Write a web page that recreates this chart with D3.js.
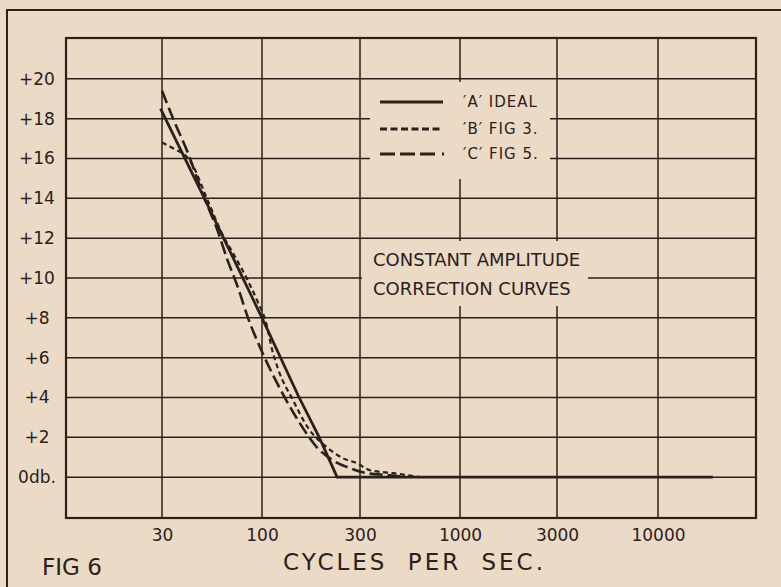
<!DOCTYPE html>
<html lang="en">
    <head>
        <meta charset="utf-8">
        <title>Fig 6 - Constant Amplitude Correction Curves</title>
        <script type="text/javascript" src="https://d3js.org/d3.v7.min.js"></script>
        <style type="text/css">
          body { margin: 0; background: #ebdac6; }
          svg { display: block; }
          text { font-family: "DejaVu Sans", sans-serif; fill: #2a211b; }
        </style>
    </head>
    <body>
        <svg width="781" height="587"></svg>
        <script type="text/javascript">

            const svg = d3.select("svg");
            const w = 781;
            const h = 587;
            const ink = "#2a211b";
            const paper = "#ebdac6";

            // grid frequencies (evenly spaced on the paper) and the labelled ones
            const gridFreqs = [10, 30, 100, 300, 1000, 3000, 10000, 30000];
            const freqTicks = [30, 100, 300, 1000, 3000, 10000];
            const dbTicks = [0, 2, 4, 6, 8, 10, 12, 14, 16, 18, 20];
            const dbLabels = ["0db.", "+2", "+4", "+6", "+8", "+10", "+12", "+14", "+16", "+18", "+20"];

            // curves: [cycles per sec, db]
            const curveA = [[29.5, 18.5], [50, 14], [100, 8], [150, 4.1], [190, 2], [232, 0], [18500, 0]];
            const curveB = [[30, 16.8], [34.5, 16.5], [42, 15.9], [52, 13.9], [62, 12.2], [71, 11.2], [83, 10.0],
                            [94, 8.9], [105, 7.7], [112, 6.4], [120, 5.4], [141, 3.9], [167, 2.5], [207, 1.5],
                            [248, 0.95], [290, 0.7], [338, 0.35], [447, 0.2], [620, 0]];
            const curveC = [[30, 19.4], [35, 17.8], [40.5, 16.4], [50, 14.0], [58, 12.5], [66, 10.9], [75, 9.5],
                            [84.5, 8.0], [101, 6.2], [126, 4.2], [153, 2.7], [185, 1.5], [221, 0.85], [268, 0.45],
                            [325, 0.2], [430, 0.1], [520, 0]];
            const legendLabels = ["\u2032A\u2032 IDEAL", "\u2032B\u2032 FIG 3.", "\u2032C\u2032 FIG 5."];
            const noteLines = ["CONSTANT AMPLITUDE", "CORRECTION CURVES"];

            const pLeft = 66, pRight = 756, pTop = 38, pBottom = 518;

            // paper grid is evenly spaced per labelled step, log inside each step
            const x = d3.scaleLog()
                        .domain(gridFreqs)
                        .range([66, 162, 262, 360, 460, 557, 658, 756]);
            const y = d3.scaleLinear()
                        .domain([-2, 22])
                        .range([517, 39]);

            svg.append("rect").attr("width", w).attr("height", h).attr("fill", paper);

            // outer page frame
            svg.append("path")
               .attr("d", `M7,${h} L7,10 L${w},10`)
               .attr("fill", "none")
               .attr("stroke", ink)
               .attr("stroke-width", 2);

            //grid
            const grid = svg.append("g").attr("stroke", ink).attr("stroke-width", 1.5);
            grid.selectAll(".hl")
                .data(dbTicks)
                .join("line")
                .attr("x1", pLeft).attr("x2", pRight)
                .attr("y1", d => y(d)).attr("y2", d => y(d));
            grid.selectAll(".vl")
                .data(gridFreqs.slice(1, -1))
                .join("line")
                .attr("y1", pTop).attr("y2", pBottom)
                .attr("x1", d => x(d)).attr("x2", d => x(d));

            // gaps in the grid left for the legend and the note
            svg.append("rect").attr("x", 370).attr("y", 82).attr("width", 180).attr("height", 97).attr("fill", paper);
            svg.append("rect").attr("x", 362).attr("y", 241).attr("width", 226).attr("height", 65).attr("fill", paper);

            svg.append("rect")
               .attr("x", pLeft).attr("y", pTop)
               .attr("width", pRight - pLeft).attr("height", pBottom - pTop)
               .attr("fill", "none")
               .attr("stroke", ink)
               .attr("stroke-width", 2.2);

            // axes (labels only, the grid is drawn above)
            const xAxis = svg.append("g")
                             .attr("transform", `translate(0,${pBottom})`)
                             .call(d3.axisBottom(x).tickValues(freqTicks).tickSize(0).tickPadding(11).tickFormat(d3.format("d")));
            xAxis.select(".domain").remove();
            xAxis.selectAll("text")
                 .attr("fill", ink)
                 .style("font-size", "17px")
                 .style("font-family", "DejaVu Sans, sans-serif");

            const yAxis = svg.append("g")
                             .attr("transform", "translate(55,0)")
                             .call(d3.axisLeft(y).tickValues(dbTicks).tickSize(0).tickFormat((d, i) => dbLabels[i]));
            yAxis.select(".domain").remove();
            yAxis.selectAll("text")
                 .attr("fill", ink)
                 .attr("x", -18)
                 .attr("text-anchor", "middle")
                 .style("font-size", "17px")
                 .style("font-family", "DejaVu Sans, sans-serif");

            //curves
            const series = [
              {pts: curveA, dash: null, width: 2.8, curve: d3.curveLinear},
              {pts: curveB, dash: "5,3.5", width: 2.2, curve: d3.curveMonotoneX},
              {pts: curveC, dash: "13,5", width: 2.6, curve: d3.curveMonotoneX}
            ];
            series.forEach(s => {
              const line = d3.line().x(d => x(d[0])).y(d => y(d[1])).curve(s.curve);
              svg.append("path")
                 .datum(s.pts)
                 .attr("d", line)
                 .attr("fill", "none")
                 .attr("stroke", ink)
                 .attr("stroke-width", s.width)
                 .attr("stroke-dasharray", s.dash);
            });

            //legend
            const legendY = [102, 129, 154];
            const legendDash = [null, "7,3.5", "15,5,15,5,15,7,2,20"];
            legendLabels.forEach((t, i) => {
              svg.append("line")
                 .attr("x1", 380).attr("x2", i == 2 ? 446 : 443)
                 .attr("y1", legendY[i]).attr("y2", legendY[i])
                 .attr("stroke", ink)
                 .attr("stroke-width", 3)
                 .attr("stroke-dasharray", legendDash[i]);
              svg.append("text")
                 .attr("x", 463)
                 .attr("y", legendY[i] + 5)
                 .style("font-size", "15px")
                 .style("letter-spacing", "1px")
                 .text(t);
            });

            // note
            svg.selectAll(".note")
               .data(noteLines)
               .join("text")
               .attr("x", 373)
               .attr("y", (d, i) => 266 + i * 29)
               .style("font-size", "18px")
               .text(d => d);

            // captions
            svg.append("text")
               .attr("x", 283).attr("y", 570)
               .style("font-size", "23px")
               .style("letter-spacing", "3px")
               .style("word-spacing", "10px")
               .text("CYCLES PER SEC.");
            svg.append("text")
               .attr("x", 42).attr("y", 575)
               .style("font-size", "23px")
               .text("FIG 6");

        </script>
    </body>
</html>
